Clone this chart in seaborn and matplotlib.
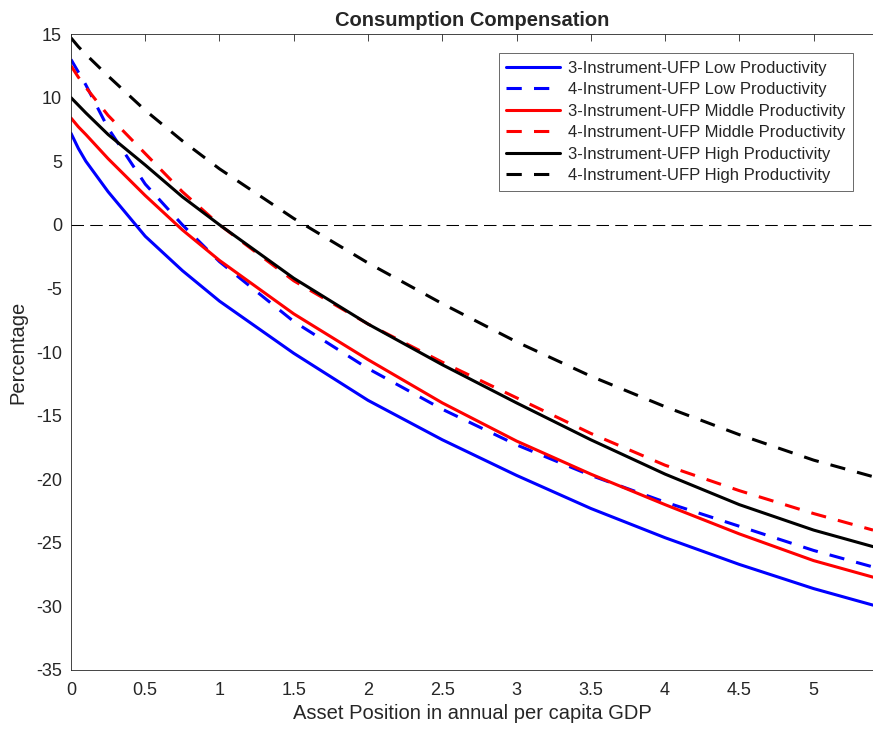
import numpy as np
import pandas as pd
import matplotlib
matplotlib.use("Agg")
import matplotlib.pyplot as plt
import seaborn as sns

# asset position (annual per capita GDP)
asset = [0, 0.05, 0.1, 0.25, 0.5, 0.75, 1, 1.5, 2, 2.5, 3, 3.5, 4, 4.5, 5, 5.4]

# consumption compensation (%)
low_3 = [7.2, 6.0, 5.0, 2.6, -0.9, -3.6, -6.0, -10.1, -13.8, -16.9, -19.7, -22.3, -24.6, -26.7, -28.6, -29.9]
low_4 = [13.0, 12.0, 11.0, 7.6, 3.2, 0.0, -2.9, -7.6, -11.3, -14.5, -17.3, -19.7, -21.8, -23.7, -25.6, -26.9]
mid_3 = [8.4, 7.7, 7.1, 5.2, 2.3, -0.4, -2.8, -7.0, -10.6, -14.0, -17.0, -19.6, -22.0, -24.3, -26.4, -27.7]
mid_4 = [12.5, 11.6, 10.8, 8.6, 5.6, 2.6, 0.0, -4.4, -7.8, -10.8, -13.6, -16.4, -18.9, -20.9, -22.7, -24.0]
high_3 = [10.0, 9.4, 8.8, 7.1, 4.7, 2.2, 0.0, -4.2, -7.8, -11.0, -14.0, -16.9, -19.6, -22.0, -24.0, -25.3]
high_4 = [14.7, 14.0, 13.4, 11.7, 9.0, 6.6, 4.4, 0.5, -3.0, -6.2, -9.2, -11.9, -14.3, -16.5, -18.5, -19.8]

labels = [
    "3-Instrument-UFP Low Productivity",
    "4-Instrument-UFP Low Productivity",
    "3-Instrument-UFP Middle Productivity",
    "4-Instrument-UFP Middle Productivity",
    "3-Instrument-UFP High Productivity",
    "4-Instrument-UFP High Productivity",
]
series = [low_3, low_4, mid_3, mid_4, high_3, high_4]
colors = ["blue", "blue", "red", "red", "black", "black"]

# long table for seaborn
df = pd.concat(
    [pd.DataFrame({"asset": asset, "pct": vals, "series": lab}) for lab, vals in zip(labels, series)],
    ignore_index=True,
)

sns.set_style("white")
plt.rcParams["font.family"] = ["Liberation Sans", "DejaVu Sans"]
plt.rcParams["axes.unicode_minus"] = False

fig = plt.figure(figsize=(8.73, 7.3), dpi=100)
ax = fig.add_axes([0.0813, 0.0822, 0.9187, 0.8712])

palette = dict(zip(labels, colors))
dashes = {lab: ("" if lab.startswith("3") else (5, 4)) for lab in labels}

sns.lineplot(data=df, x="asset", y="pct", hue="series", style="series",
             hue_order=labels, style_order=labels, palette=palette, dashes=dashes,
             linewidth=2.2, ax=ax)

# zero reference line
ax.axhline(0, color="black", linewidth=0.75, linestyle=(0, (12, 6)), zorder=0)

ax.set_xlim(0, 5.4)
ax.set_ylim(-35, 15)
ax.set_xticks(np.arange(0, 5.5, 0.5))
ax.set_xticklabels(["0", "0.5", "1", "1.5", "2", "2.5", "3", "3.5", "4", "4.5", "5"])
ax.set_yticks(np.arange(-35, 16, 5))
ax.tick_params(direction="in", top=True, right=False, length=5, width=0.6,
               labelsize=13, colors="#262626", pad=6.5)
ax.tick_params(axis="x", pad=9)
for s in ax.spines.values():
    s.set_color("#262626")
    s.set_linewidth(0.6)
ax.spines["right"].set_visible(False)

ax.set_xlabel("Asset Position in annual per capita GDP", fontsize=14.5, color="#262626", labelpad=3)
ax.set_ylabel("Percentage", fontsize=14.5, color="#262626", labelpad=6)
ax.set_title("Consumption Compensation", fontsize=14.5, fontweight="bold", pad=6)

leg = ax.legend(loc="upper right", bbox_to_anchor=(0.975, 0.97), fontsize=12,
                handlelength=3.2, frameon=True, fancybox=False, borderpad=0.45,
                labelspacing=0.39, handletextpad=0.5, borderaxespad=0)
leg.get_frame().set_edgecolor("#262626")
leg.get_frame().set_linewidth(0.6)

fig.savefig("out.png", dpi=100)
